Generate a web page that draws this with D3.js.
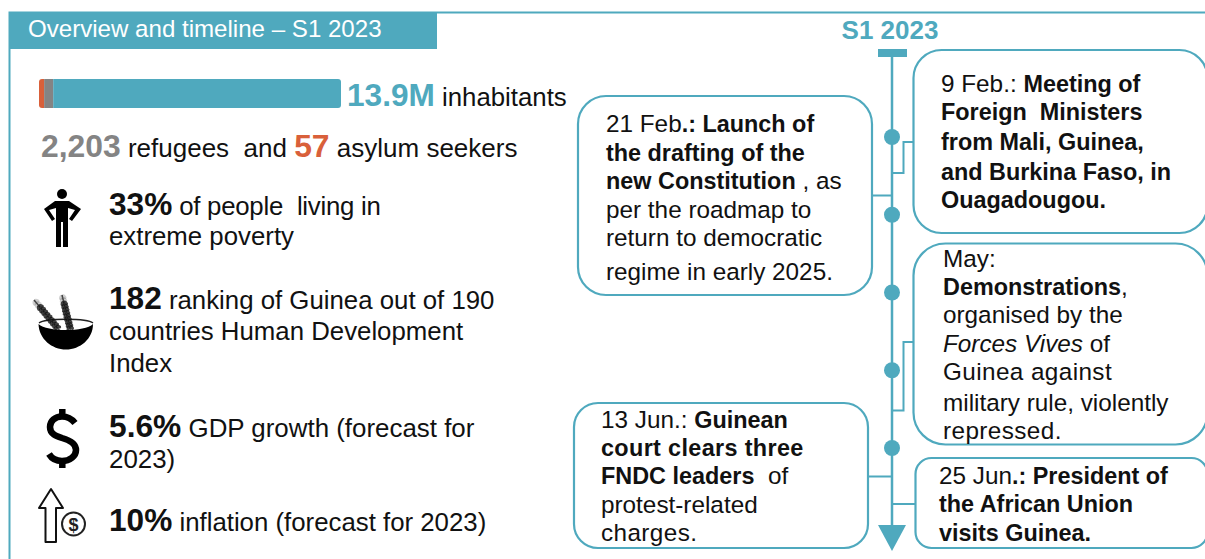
<!DOCTYPE html>
<html>
<head>
<meta charset="utf-8">
<script src="https://cdn.jsdelivr.net/npm/d3@7"></script>
<style>
  html, body { margin: 0; padding: 0; background: #fff; }
  svg { display: block; }
  text { font-family: "Liberation Sans", Arial, sans-serif; white-space: pre; fill: #111; }
</style>
</head>
<body>
<div id="chart"></div>
<script>
// population bar, as drawn (share of bar length)
const barGroups = ['asylum seekers', 'refugees', 'inhabitants'];
const barShares = [1.7, 3.0, 95.3];

// timeline months with a dot
const months = ['Feb', 'Mar', 'Apr', 'May', 'Jun'];

// each line is a list of runs: [text, style]
const headerTitle = 'Overview and timeline – S1 2023';
const timelineTitle = 'S1 2023';
const popLine = [['13.9M', 'bt'], [' inhabitants', '']];
const refugeeLine = [['2,203', 'bg'], [' refugees  and ', ''], ['57', 'bo'], [' asylum seekers', '']];
const povertyLines = [[['33%', 'b'], [' of people  living in', 'n']], [['extreme poverty', '']]];
const rankLines = [[['182', 'b'], [' ranking of Guinea out of 190', '']], [['countries Human Development', '']], [['Index', '']]];
const gdpLines = [[['5.6%', 'b'], [' GDP growth (forecast for', '']], [['2023)', '']]];
const inflationLines = [[['10%', 'b'], [' inflation (forecast for 2023)', '']]];

const feb21 = [
  [['21 Feb', ''], ['.: Launch of', 'w']],
  [['the drafting of the', 'w']],
  [['new Constitution', 'w'], [' , as', '']],
  [['per the roadmap to', '']],
  [['return to democratic', '']],
  [['regime in early 2025.', '']]
];
const feb9 = [
  [['9 Feb.: ', ''], ['Meeting of', 'w']],
  [['Foreign  Ministers', 'w']],
  [['from Mali, Guinea,', 'w']],
  [['and Burkina Faso, in', 'w']],
  [['Ouagadougou.', 'w']]
];
const may = [
  [['May:', '']],
  [['Demonstrations', 'w'], [',', '']],
  [['organised by the', '']],
  [['Forces Vives', 'i'], [' of', '']],
  [['Guinea against', 's']],
  [['military rule, violently', '']],
  [['repressed.', 's']]
];
const jun13 = [
  [['13 Jun.: ', ''], ['Guinean', 'w']],
  [['court clears three', 'ws']],
  [['FNDC leaders', 'w'], ['  of', '']],
  [['protest-related', '']],
  [['charges.', 's']]
];
const jun25 = [
  [['25 Jun', ''], ['.: President of', 'w']],
  [['the African Union', 'w']],
  [['visits Guinea.', 'w']]
];

const teal = '#4fa9be';
const grey = '#848484';
const orange = '#d9603a';
const width = 1205;
const height = 559;

const svg = d3.select('#chart').append('svg')
  .attr('width', width)
  .attr('height', height);

// frame and header
svg.append('path')
  .attr('d', 'M9.5,559V12.5H1205')
  .attr('fill', 'none')
  .attr('stroke', teal)
  .attr('stroke-width', 2);
svg.append('rect')
  .attr('x', 9).attr('y', 12).attr('width', 428).attr('height', 37)
  .attr('fill', teal);
svg.append('text')
  .attr('x', 28).attr('y', 37)
  .attr('font-size', 24.1)
  .style('fill', '#fff')
  .text(headerTitle);

// population bar
const barX = d3.scaleLinear().domain([0, d3.sum(barShares)]).range([39, 341]);
const stacked = d3.cumsum(barShares);
const barClip = svg.append('clipPath').attr('id', 'bar-clip');
barClip.append('rect')
  .attr('x', barX(0)).attr('y', 79)
  .attr('width', barX(100) - barX(0)).attr('height', 29)
  .attr('rx', 3);
svg.append('g')
  .attr('clip-path', 'url(#bar-clip)')
  .selectAll('rect')
  .data(barGroups)
  .join('rect')
  .attr('x', (d, i) => barX(stacked[i] - barShares[i]))
  .attr('y', 79)
  .attr('width', (d, i) => barX(stacked[i]) - barX(stacked[i] - barShares[i]))
  .attr('height', 29)
  .attr('fill', d3.scaleOrdinal().domain(barGroups).range([orange, grey, teal]));

// text helper: one <text> per line, one <tspan> per run
const runStyle = {
  b: { weight: 'bold', size: 1.225 },
  bt: { weight: 'bold', size: 1.225, fill: teal },
  bg: { weight: 'bold', size: 1.225, fill: grey },
  bo: { weight: 'bold', size: 1.225, fill: orange },
  n: { spacing: -0.25 },
  w: { weight: 'bold', size: 0.963 },
  ws: { weight: 'bold', size: 0.963, spacing: 0.35 },
  s: { spacing: 0.4 },
  i: { style: 'italic' }
};
const writeLines = (lines, x, ys, size) => {
  const text = svg.append('g')
    .selectAll('text')
    .data(lines)
    .join('text')
    .attr('x', x)
    .attr('y', (d, i) => ys[i])
    .attr('font-size', size);
  text.selectAll('tspan')
    .data(d => d)
    .join('tspan')
    .text(d => d[0])
    .attr('font-weight', d => (runStyle[d[1]] || {}).weight || null)
    .attr('font-style', d => (runStyle[d[1]] || {}).style || null)
    .attr('font-size', d => size * ((runStyle[d[1]] || {}).size || 1))
    .attr('letter-spacing', d => (runStyle[d[1]] || {}).spacing || null)
    .style('fill', d => (runStyle[d[1]] || {}).fill || null);
};

writeLines([popLine], 347, [106], 25.8);
writeLines([refugeeLine], 41, [157], 26);
writeLines(povertyLines, 109, [215, 245], 25.8);
writeLines(rankLines, 109, [309, 340, 372], 25.8);
writeLines(gdpLines, 109, [437, 468], 25.9);
writeLines(inflationLines, 109, [531], 25.8);

// icons
svg.append('circle').attr('cx', 62).attr('cy', 194).attr('r', 5).attr('fill', '#000');
svg.append('path')
  .attr('d', 'M55,201H69L81,209L72,221L69,219L75,210L68,208V247H63V222H61V247H56V208L49,210L55,219L52,221L44,209Z')
  .attr('fill', '#000');

// bowl with two ears of wheat
const ear = (x1, y1, x2, y2) => {
  const dx = x2 - x1;
  const dy = y2 - y1;
  const a = Math.atan2(dy, dx) * 180 / Math.PI;
  const g = svg.append('g');
  g.append('line')
    .attr('x1', x1).attr('y1', y1).attr('x2', x2).attr('y2', y2)
    .attr('stroke', '#555').attr('stroke-width', 1.5);
  d3.range(1, 12).forEach(k => {
    [-1, 1].forEach(s => {
      const px = x1 + dx * k / 12;
      const py = y1 + dy * k / 12;
      g.append('ellipse')
        .attr('cx', 0).attr('cy', s * 2)
        .attr('rx', 2.8).attr('ry', 1.7)
        .attr('transform', `translate(${px},${py}) rotate(${a + s * 30})`)
        .attr('fill', '#111')
        .attr('opacity', k < 3 ? 0.2 : 0.8);
    });
  });
};
svg.append('path')
  .attr('d', 'M39,323C45,318 87,318 93,323')
  .attr('fill', 'none').attr('stroke', '#222').attr('stroke-width', 1.3);
ear(34, 300, 60, 331);
ear(62, 295, 71, 332);
svg.append('path')
  .attr('d', 'M38.5,324C39,339 52,349.5 66,349.5C80,349.5 93,339 93,324C85,332 47,332 38.5,324Z')
  .attr('fill', '#000');

// dollar
svg.append('path')
  .attr('d', 'M75,423C71,418 66,416.5 62,416.5C55,416.5 50,421 50,427C50,434 56,436 62,438C69,440 76,443 76,450C76,456 70,461 62,461C57,461 52,459 49,454M62.3,409V417M62.3,460V468')
  .attr('fill', 'none')
  .attr('stroke', '#000')
  .attr('stroke-width', 6.5);

// inflation arrow
svg.append('path')
  .attr('d', 'M51,489L39,508H45.5V542H56V508H63Z')
  .attr('fill', 'none')
  .attr('stroke', '#111')
  .attr('stroke-width', 2)
  .attr('stroke-linejoin', 'round');
svg.append('circle')
  .attr('cx', 73.5).attr('cy', 524).attr('r', 11.5)
  .attr('fill', 'none')
  .attr('stroke', '#222')
  .attr('stroke-width', 2);
svg.append('text')
  .attr('x', 73.5).attr('y', 530.5)
  .attr('text-anchor', 'middle')
  .attr('font-size', 18)
  .attr('font-weight', 'bold')
  .style('fill', '#222')
  .text('$');

// timeline
const axisX = 892;
const timeY = d3.scalePoint().domain(months).range([137, 448]);
svg.append('text')
  .attr('x', 890).attr('y', 39)
  .attr('text-anchor', 'middle')
  .attr('font-size', 26)
  .attr('font-weight', 'bold')
  .style('fill', teal)
  .text(timelineTitle);
svg.append('rect')
  .attr('x', 878).attr('y', 49).attr('width', 29).attr('height', 8)
  .attr('fill', teal);
svg.append('line')
  .attr('x1', axisX).attr('x2', axisX)
  .attr('y1', 55).attr('y2', 530)
  .attr('stroke', teal)
  .attr('stroke-width', 2.5);
svg.append('path')
  .attr('d', `M${axisX - 14},525H${axisX + 14}L${axisX},551Z`)
  .attr('fill', teal);
svg.append('g')
  .selectAll('circle')
  .data(months)
  .join('circle')
  .attr('cx', axisX)
  .attr('cy', d => timeY(d))
  .attr('r', 8)
  .attr('fill', teal);

// connectors from the boxes to the axis
svg.append('path')
  .attr('d', `M914,142H903.5V173H${axisX}M873,195.5H${axisX}M914,342H903.5V410.5H${axisX}M868,476.5H${axisX}M916,504H${axisX}`)
  .attr('fill', 'none')
  .attr('stroke', teal)
  .attr('stroke-width', 2);

// event boxes
const box = (x, y, w, h, r) => svg.append('rect')
  .attr('x', x).attr('y', y).attr('width', w).attr('height', h).attr('rx', r)
  .attr('fill', 'none')
  .attr('stroke', teal)
  .attr('stroke-width', 2.2);
box(578, 96, 294, 199, 28);
box(913.5, 50, 294, 183, 28);
box(913.5, 243.5, 294, 201, 32);
box(574, 403, 294, 145, 24);
box(915.5, 458, 292, 90, 16);

writeLines(feb21, 606, [132, 161, 189, 218, 246, 280], 24.3);
writeLines(feb9, 941, [92, 120, 150, 180, 208], 24.3);
writeLines(may, 943, [267, 295, 323, 352, 380, 411, 439], 24.3);
writeLines(jun13, 601, [428, 456, 484, 513, 541], 24.3);
writeLines(jun25, 939, [484, 512, 541], 24.3);
</script>
</body>
</html>
